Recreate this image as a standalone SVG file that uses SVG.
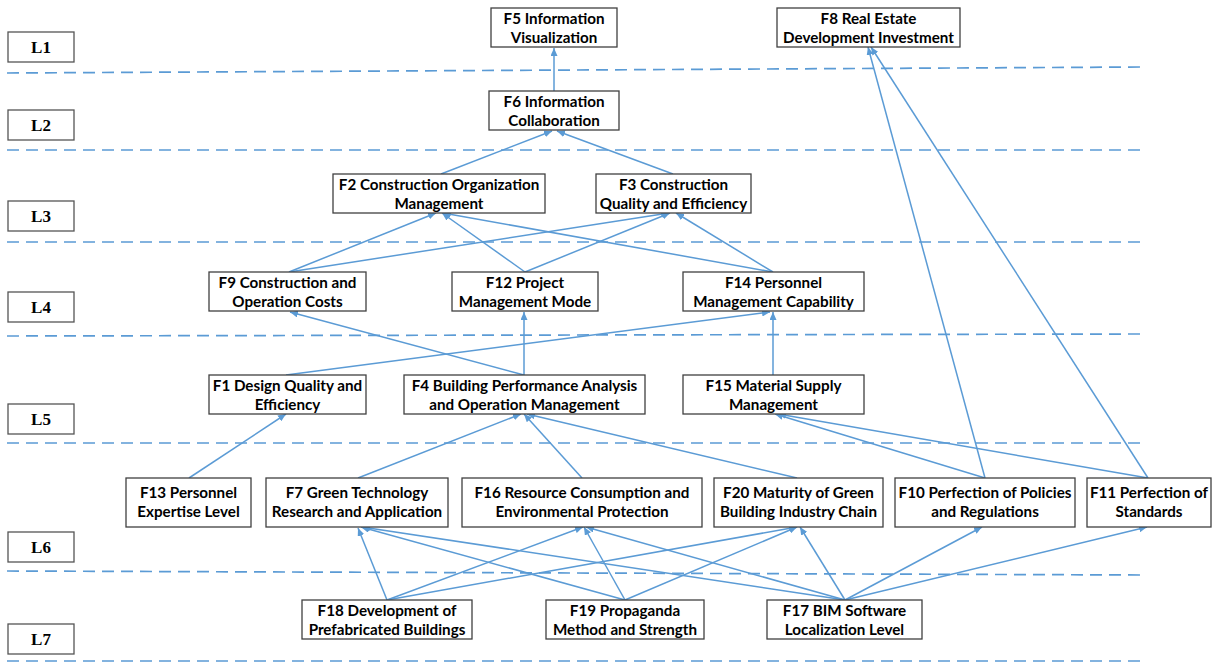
<svg xmlns="http://www.w3.org/2000/svg" width="1225" height="663" viewBox="0 0 1225 663">
  <defs>
    <marker id="arrow" markerUnits="userSpaceOnUse" markerWidth="9" markerHeight="7" refX="8" refY="3.5" orient="auto">
      <path d="M0,0 L8,3.5 L0,7 z" fill="#5B9BD5"/>
    </marker>
    <style>
      .bg { fill: #ffffff; }
      .level rect { fill: #ffffff; stroke: #555555; stroke-width: 1.3; }
      .level text { font-family: "Liberation Serif", "Times New Roman", serif; font-weight: bold; font-size: 17px; fill: #000000; text-anchor: middle; }
      .sep { stroke: #5B9BD5; stroke-width: 1.7; stroke-dasharray: 12 7; fill: none; }
      .node rect { fill: #ffffff; stroke: #404040; stroke-width: 1.3; }
      .node text { font-family: Lato, "Open Sans", "Liberation Sans", sans-serif; font-weight: 700; font-size: 15.2px; fill: #000000; text-anchor: middle; }
      .edges line { stroke: #5B9BD5; stroke-width: 1.5; marker-end: url(#arrow); }
    </style>
  </defs>

  <rect class="bg" x="0" y="0" width="1225" height="663"/>

  <!-- level separators -->
  <g id="separators">
    <line class="sep" x1="7" y1="73" x2="1143" y2="67"/>
    <line class="sep" x1="7" y1="150" x2="1143" y2="150"/>
    <line class="sep" x1="7" y1="242" x2="1140" y2="242"/>
    <line class="sep" x1="7" y1="336" x2="1140" y2="334"/>
    <line class="sep" x1="7" y1="443" x2="1140" y2="443"/>
    <line class="sep" x1="7" y1="571" x2="1143" y2="575"/>
    <line class="sep" x1="7" y1="661" x2="1143" y2="661"/>
  </g>

  <!-- level labels -->
  <g id="L1" class="level"><rect x="8" y="32" width="66" height="30"/><text x="41" y="53">L1</text></g>
  <g id="L2" class="level"><rect x="8" y="110" width="66" height="30"/><text x="41" y="131">L2</text></g>
  <g id="L3" class="level"><rect x="8" y="201" width="66" height="30"/><text x="41" y="222">L3</text></g>
  <g id="L4" class="level"><rect x="8" y="292" width="66" height="30"/><text x="41" y="313">L4</text></g>
  <g id="L5" class="level"><rect x="8" y="404" width="66" height="30"/><text x="41" y="425">L5</text></g>
  <g id="L6" class="level"><rect x="8" y="532" width="66" height="30"/><text x="41" y="553">L6</text></g>
  <g id="L7" class="level"><rect x="8" y="624" width="66" height="30"/><text x="41" y="645">L7</text></g>

  <!-- connectors -->
  <g id="edges" class="edges">
    <line x1="554" y1="91" x2="554" y2="48"/>
    <line x1="441" y1="174" x2="552" y2="131"/>
    <line x1="673" y1="174" x2="557" y2="131"/>
    <line x1="289" y1="272" x2="436" y2="213"/>
    <line x1="289" y1="272" x2="669" y2="213"/>
    <line x1="525" y1="272" x2="442" y2="213"/>
    <line x1="525" y1="272" x2="670" y2="213"/>
    <line x1="773" y1="272" x2="443" y2="213"/>
    <line x1="773" y1="272" x2="676" y2="213"/>
    <line x1="524" y1="375" x2="290" y2="312"/>
    <line x1="524" y1="375" x2="524" y2="312"/>
    <line x1="286" y1="375" x2="770" y2="312"/>
    <line x1="773" y1="375" x2="773" y2="312"/>
    <line x1="189" y1="478" x2="286" y2="414"/>
    <line x1="358" y1="478" x2="521" y2="414"/>
    <line x1="582" y1="478" x2="524" y2="414"/>
    <line x1="797" y1="478" x2="527" y2="414"/>
    <line x1="985" y1="478" x2="775" y2="414"/>
    <line x1="1148" y1="478" x2="778" y2="414"/>
    <line x1="985" y1="478" x2="868" y2="47"/>
    <line x1="1148" y1="478" x2="871" y2="47"/>
    <line x1="387" y1="600" x2="358" y2="528"/>
    <line x1="387" y1="600" x2="583" y2="527"/>
    <line x1="387" y1="600" x2="797" y2="527"/>
    <line x1="625" y1="600" x2="361" y2="527"/>
    <line x1="625" y1="600" x2="584" y2="527"/>
    <line x1="625" y1="600" x2="797" y2="527"/>
    <line x1="845" y1="600" x2="362" y2="527"/>
    <line x1="845" y1="600" x2="586" y2="527"/>
    <line x1="845" y1="600" x2="800" y2="527"/>
    <line x1="845" y1="600" x2="982" y2="527"/>
    <line x1="845" y1="600" x2="1147" y2="527"/>
  </g>

  <!-- factor nodes -->
  <g id="F5" class="node"><rect x="491" y="8" width="126" height="39"/><text x="554" y="23.5">F5 Information</text><text x="554" y="42.5">Visualization</text></g>
  <g id="F8" class="node"><rect x="777" y="8" width="183" height="39"/><text x="868.5" y="23.5">F8 Real Estate</text><text x="868.5" y="42.5">Development Investment</text></g>
  <g id="F6" class="node"><rect x="489" y="91" width="130" height="39"/><text x="554" y="106.5">F6 Information</text><text x="554" y="125.5">Collaboration</text></g>
  <g id="F2" class="node"><rect x="333" y="174" width="212" height="39"/><text x="439" y="189.5">F2 Construction Organization</text><text x="439" y="208.5">Management</text></g>
  <g id="F3" class="node"><rect x="596" y="174" width="155" height="39"/><text x="673.5" y="189.5">F3 Construction</text><text x="673.5" y="208.5">Quality and Efficiency</text></g>
  <g id="F9" class="node"><rect x="209" y="272" width="157" height="39"/><text x="287.5" y="287.5">F9 Construction and</text><text x="287.5" y="306.5">Operation Costs</text></g>
  <g id="F12" class="node"><rect x="452" y="272" width="146" height="39"/><text x="525" y="287.5">F12 Project</text><text x="525" y="306.5">Management Mode</text></g>
  <g id="F14" class="node"><rect x="683" y="272" width="181" height="39"/><text x="773.5" y="287.5">F14 Personnel</text><text x="773.5" y="306.5">Management Capability</text></g>
  <g id="F1" class="node"><rect x="209" y="375" width="157" height="39"/><text x="287.5" y="390.5">F1 Design Quality and</text><text x="287.5" y="409.5">Efficiency</text></g>
  <g id="F4" class="node"><rect x="404" y="375" width="241" height="39"/><text x="524.5" y="390.5">F4 Building Performance Analysis</text><text x="524.5" y="409.5">and Operation Management</text></g>
  <g id="F15" class="node"><rect x="683" y="375" width="181" height="39"/><text x="773.5" y="390.5">F15 Material Supply</text><text x="773.5" y="409.5">Management</text></g>
  <g id="F13" class="node"><rect x="126" y="478" width="125" height="49"/><text x="188.5" y="498">F13 Personnel</text><text x="188.5" y="517">Expertise Level</text></g>
  <g id="F7" class="node"><rect x="266" y="478" width="182" height="49"/><text x="357" y="498">F7 Green Technology</text><text x="357" y="517">Research and Application</text></g>
  <g id="F16" class="node"><rect x="462" y="478" width="240" height="49"/><text x="582" y="498">F16 Resource Consumption and</text><text x="582" y="517">Environmental Protection</text></g>
  <g id="F20" class="node"><rect x="714" y="478" width="169" height="49"/><text x="798.5" y="498">F20 Maturity of Green</text><text x="798.5" y="517">Building Industry Chain</text></g>
  <g id="F10" class="node"><rect x="895" y="478" width="180" height="49"/><text x="985" y="498">F10 Perfection of Policies</text><text x="985" y="517">and Regulations</text></g>
  <g id="F11" class="node"><rect x="1087" y="478" width="124" height="49"/><text x="1149" y="498">F11 Perfection of</text><text x="1149" y="517">Standards</text></g>
  <g id="F18" class="node"><rect x="302" y="600" width="170" height="39"/><text x="387" y="615.5">F18 Development of</text><text x="387" y="634.5">Prefabricated Buildings</text></g>
  <g id="F19" class="node"><rect x="546" y="600" width="158" height="39"/><text x="625" y="615.5">F19 Propaganda</text><text x="625" y="634.5">Method and Strength</text></g>
  <g id="F17" class="node"><rect x="767" y="600" width="155" height="39"/><text x="844.5" y="615.5">F17 BIM Software</text><text x="844.5" y="634.5">Localization Level</text></g>
</svg>
